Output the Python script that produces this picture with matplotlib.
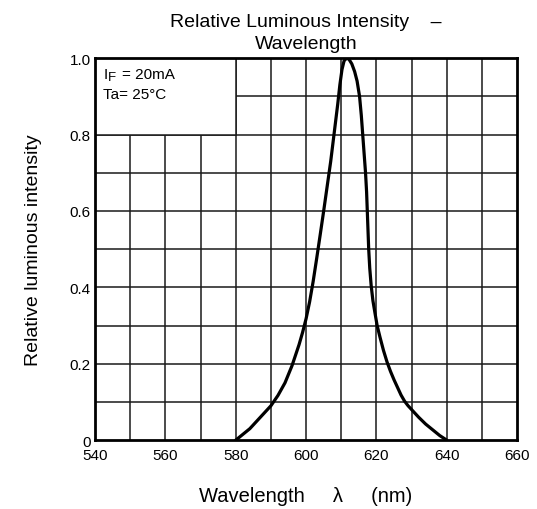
import matplotlib
matplotlib.use('Agg')
import matplotlib.pyplot as plt
from matplotlib.patches import Rectangle

# spectrum
wavelength = [580, 582, 584, 586, 588, 590, 592, 594, 596, 598, 599, 600,
              601, 602, 603, 604, 605, 606, 607, 608, 609, 609.6, 610.2, 610.8,
              611.5, 612.2, 613, 613.8, 614.5, 615.2, 615.7, 616.1, 616.5, 616.9,
              617.2, 617.4, 617.6, 617.8, 618.1, 618.5, 619, 619.6, 620.2, 621,
              622, 623, 624, 625, 626, 627, 628, 629, 630, 632, 634, 636, 638, 640]
intensity = [0, 0.015, 0.03, 0.05, 0.07, 0.09, 0.117, 0.15, 0.195, 0.25, 0.282, 0.318,
             0.362, 0.415, 0.475, 0.537, 0.6, 0.665, 0.73, 0.805, 0.88, 0.93, 0.97, 0.993,
             1.0, 0.997, 0.985, 0.965, 0.94, 0.9, 0.85, 0.8, 0.75, 0.7,
             0.65, 0.6, 0.55, 0.5, 0.45, 0.405, 0.365, 0.332, 0.30, 0.27,
             0.235, 0.205, 0.18, 0.158, 0.138, 0.118, 0.102, 0.09, 0.08, 0.06, 0.042,
             0.027, 0.012, 0]

x_ticks = [540, 560, 580, 600, 620, 640, 660]
y_ticks = [0, 0.2, 0.4, 0.6, 0.8, 1.0]
y_tick_labels = ['0', '0.2', '0.4', '0.6', '0.8', '1.0']

plt.rcParams['font.family'] = ['Liberation Sans', 'DejaVu Sans']

fig = plt.figure(figsize=(5.37, 5.10), dpi=100)
ax = fig.add_axes([0.177, 0.135, 0.786, 0.749])

ax.set_xlim(540, 660)
ax.set_ylim(0, 1.0)

# grid every 10 nm / 0.1
for xv in range(550, 660, 10):
    ax.axvline(xv, color='#1a1a1a', lw=1.1, zorder=1)
for i in range(1, 10):
    ax.axhline(i / 10, color='#1a1a1a', lw=1.1, zorder=1)

# condition box in top-left
ax.add_patch(Rectangle((540, 0.8), 40, 0.2, facecolor='white', edgecolor='#1a1a1a',
                       lw=1.1, zorder=2))
x0, y0 = 542.3, 0.948
ax.annotate('I', (x0, y0), fontsize=11, va='baseline', zorder=3)
ax.annotate('F', (x0, y0), xytext=(3.2, -1.5), textcoords='offset points',
            fontsize=9.5, va='baseline', zorder=3)
ax.annotate('= 20mA', (x0, y0), xytext=(13.3, 0), textcoords='offset points',
            fontsize=11, va='baseline', zorder=3)
ax.annotate('Ta= 25°C', (x0, 0.895), fontsize=11, va='baseline', zorder=3)

ax.plot(wavelength, intensity, color='black', lw=2.3, zorder=4,
        solid_joinstyle='round', solid_capstyle='round')

ax.set_xticks(x_ticks)
ax.set_yticks(y_ticks)
ax.set_yticklabels(y_tick_labels)
ax.tick_params(length=0, labelsize=11)
ax.tick_params(axis='x', pad=6)
ax.tick_params(axis='y', pad=3)
for s in ax.spines.values():
    s.set_linewidth(2)
    s.set_zorder(5)

ax.set_title('Relative Luminous Intensity    –\nWavelength', fontsize=14,
             linespacing=1.4, pad=7)
ax.set_xlabel('Wavelength     λ     (nm)', fontsize=14.5, labelpad=17)
ax.set_ylabel('Relative luminous intensity', fontsize=14, labelpad=20)

fig.savefig('out.png', dpi=100)
